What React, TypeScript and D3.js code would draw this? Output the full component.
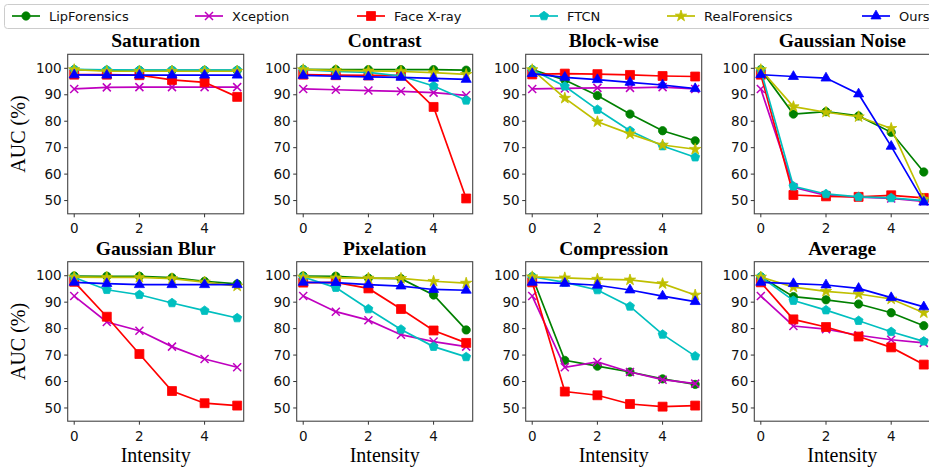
import React from "react";
import * as d3 from "d3";

const methods = ["LipForensics", "Xception", "Face X-ray", "FTCN", "RealForensics", "Ours"];
const intensities = [0, 1, 2, 3, 4, 5];
const xTicks = [0, 2, 4];
const yTicks = [50, 60, 70, 80, 90, 100];

// each panel: one row per method, same order as `methods`
const saturation = [
  [99.5, 99.2, 99.2, 99.2, 99.2, 99.2],
  [92.2, 92.8, 92.9, 92.9, 92.9, 92.9],
  [97.6, 97.6, 97.4, 95.6, 94.7, 89.2],
  [99.6, 99.4, 99.3, 99.3, 99.3, 99.3],
  [99.5, 98.9, 98.9, 98.9, 98.9, 98.9],
  [97.5, 97.4, 97.4, 97.4, 97.4, 97.4],
];
const contrast = [
  [99.6, 99.5, 99.5, 99.5, 99.5, 99.3],
  [92.2, 91.9, 91.6, 91.3, 90.8, 89.8],
  [97.6, 97.4, 97.3, 97.3, 85.4, 50.8],
  [99.5, 98.8, 98.5, 97.1, 93.3, 87.9],
  [99.5, 99.2, 99.0, 98.8, 98.4, 97.7],
  [97.3, 97.0, 96.8, 96.6, 96.2, 95.8],
];
const blockWise = [
  [99.5, 95.6, 89.7, 82.7, 76.4, 72.6],
  [92.2, 92.4, 92.6, 92.6, 92.9, 92.2],
  [97.7, 98.0, 97.8, 97.5, 97.1, 96.9],
  [99.5, 93.2, 84.4, 76.4, 70.6, 66.4],
  [99.5, 88.7, 79.8, 75.2, 71.0, 69.4],
  [98.0, 96.6, 95.7, 94.7, 93.7, 92.3],
];
const gaussianNoise = [
  [99.5, 82.7, 83.6, 82.0, 75.8, 60.8],
  [92.2, 55.0, 52.0, 51.3, 50.8, 49.7],
  [97.6, 52.1, 51.6, 51.4, 52.0, 51.0],
  [99.3, 55.4, 52.5, 51.4, 51.0, 50.0],
  [99.5, 85.5, 83.4, 81.7, 77.3, 50.5],
  [97.6, 96.9, 96.3, 90.3, 70.5, 49.4],
];
const gaussianBlur = [
  [99.9, 99.8, 99.8, 99.3, 97.9, 96.9],
  [92.3, 82.5, 79.2, 73.2, 68.5, 65.4],
  [97.7, 84.5, 70.4, 56.4, 51.8, 50.9],
  [99.3, 94.7, 92.8, 89.7, 86.8, 84.0],
  [99.5, 99.4, 99.4, 98.9, 97.6, 96.1],
  [97.5, 97.0, 96.6, 96.6, 96.6, 96.6],
];
const pixelation = [
  [99.9, 99.8, 99.1, 98.9, 92.7, 79.5],
  [92.3, 86.4, 83.2, 77.7, 75.1, 73.2],
  [97.4, 97.5, 95.2, 87.4, 79.3, 74.6],
  [99.5, 95.5, 87.4, 79.7, 73.2, 69.3],
  [99.5, 99.2, 99.1, 99.0, 97.9, 97.2],
  [97.5, 97.4, 96.6, 96.1, 94.8, 94.5],
];
const compression = [
  [99.6, 68.0, 65.8, 63.6, 61.0, 58.9],
  [92.3, 65.4, 67.4, 63.6, 60.7, 59.2],
  [97.5, 56.2, 54.8, 51.5, 50.5, 50.9],
  [99.6, 97.5, 94.6, 88.4, 77.8, 69.6],
  [99.6, 99.2, 98.7, 98.4, 97.0, 92.7],
  [97.5, 97.1, 96.4, 94.6, 92.3, 90.2],
];
const average = [
  [99.6, 92.1, 90.9, 89.3, 86.0, 81.1],
  [92.3, 81.0, 79.8, 77.5, 75.8, 74.6],
  [97.5, 83.5, 80.6, 77.0, 72.9, 66.4],
  [99.6, 90.6, 87.0, 83.0, 78.8, 75.2],
  [99.5, 95.7, 94.1, 93.1, 91.2, 86.0],
  [97.5, 97.0, 96.5, 95.2, 91.7, 88.2],
];

const panelTitles = ["Saturation", "Contrast", "Block-wise", "Gaussian Noise", "Gaussian Blur", "Pixelation", "Compression", "Average"];
const panelData = [saturation, contrast, blockWise, gaussianNoise, gaussianBlur, pixelation, compression, average];

const colors = ["#008000", "#bf00bf", "#ff0000", "#00bfbf", "#bfbf00", "#0000ff"];
const markers = ["circle", "x", "square", "pentagon", "star", "triangle"];

const W = 929, H = 468;
const colLeft = [67.7, 296.7, 525.7, 754.3];
const rowTop = [54.3, 261.7];
const panelW = 176, panelH = 159.5;
const legendX = [12, 195, 357, 530, 667, 862];

function markerPath(kind: string): string {
  if (kind === "circle") return d3.symbol(d3.symbolCircle, 54)() as string;
  if (kind === "square") return d3.symbol(d3.symbolSquare, 80)() as string;
  if (kind === "triangle") return d3.symbol(d3.symbolTriangle, 44)() as string;
  if (kind === "star") return d3.symbol(d3.symbolStar, 40)() as string;
  if (kind === "pentagon") {
    const r = 4.7;
    const pts = d3.range(5).map((k) => {
      const a = -Math.PI / 2 + (k * 2 * Math.PI) / 5;
      return [r * Math.cos(a), r * Math.sin(a)];
    });
    return "M" + pts.map((p) => p.join(",")).join("L") + "Z";
  }
  const s = 4;
  return `M${-s},${-s}L${s},${s}M${-s},${s}L${s},${-s}`;
}

function Marker({ kind, color, x, y }: { kind: string; color: string; x: number; y: number }) {
  const d = markerPath(kind);
  if (kind === "x") {
    return <path d={d} transform={`translate(${x},${y})`} fill="none" stroke={color} strokeWidth={1.5} />;
  }
  return <path d={d} transform={`translate(${x},${y})`} fill={color} stroke={color} strokeWidth={0.8} />;
}

function Panel({ idx }: { idx: number }) {
  const col = idx % 4, row = Math.floor(idx / 4);
  const left = colLeft[col], top = rowTop[row];
  const x = d3.scaleLinear().domain([-0.2, 5.2]).range([left, left + panelW]);
  const y = d3.scaleLinear().domain([45, 105.3]).range([top + panelH, top]);
  const line = d3.line<number>().x((_, i) => x(intensities[i])).y((v) => y(v));
  const rows = panelData[idx];
  return (
    <g>
      <text x={left + panelW / 2} y={top - 7} textAnchor="middle" fontFamily="Liberation Serif" fontWeight="bold" fontSize={19.5}>
        {panelTitles[idx]}
      </text>
      {rows.map((vals, m) => (
        <g key={m}>
          <path d={line(vals) as string} fill="none" stroke={colors[m]} strokeWidth={1.7} />
          {vals.map((v, i) => (
            <Marker key={i} kind={markers[m]} color={colors[m]} x={x(intensities[i])} y={y(v)} />
          ))}
        </g>
      ))}
      <rect x={left} y={top} width={panelW} height={panelH} fill="none" stroke="#444" strokeWidth={1.1} />
      {yTicks.map((t) => (
        <g key={t}>
          <line x1={left - 3.5} x2={left} y1={y(t)} y2={y(t)} stroke="#333" />
          <text x={left - 6} y={y(t)} dy="0.35em" textAnchor="end" fontFamily="DejaVu Sans" fontSize={13.5} fill="#111">
            {t}
          </text>
        </g>
      ))}
      {xTicks.map((t) => (
        <g key={t}>
          <line x1={x(t)} x2={x(t)} y1={top + panelH} y2={top + panelH + 3.5} stroke="#333" />
          <text x={x(t)} y={top + panelH + 19.5} textAnchor="middle" fontFamily="DejaVu Sans" fontSize={13.5} fill="#111">
            {t}
          </text>
        </g>
      ))}
      {col === 0 && (
        <text transform={`translate(24.5,${top + panelH / 2}) rotate(-90)`} textAnchor="middle" fontFamily="Liberation Serif" fontSize={20}>
          AUC (%)
        </text>
      )}
      {row === 1 && (
        <text x={left + panelW / 2} y={461.5} textAnchor="middle" fontFamily="Liberation Serif" fontSize={20}>
          Intensity
        </text>
      )}
    </g>
  );
}

export default function App() {
  return (
    <svg width={W} height={H} style={{ position: "absolute", left: 0, top: 0, background: "#fff" }}>
      <rect x={0} y={0} width={W} height={H} fill="#fff" />
      {panelTitles.map((_, i) => (
        <Panel key={i} idx={i} />
      ))}
      <rect x={4.5} y={4.5} width={940} height={24} rx={3} fill="#fff" stroke="#ccc" strokeWidth={1} />
      {methods.map((name, m) => (
        <g key={name}>
          <line x1={legendX[m]} x2={legendX[m] + 28} y1={16} y2={16} stroke={colors[m]} strokeWidth={1.7} />
          <Marker kind={markers[m]} color={colors[m]} x={legendX[m] + 14} y={16} />
          <text x={legendX[m] + 37} y={20.5} fontFamily="DejaVu Sans" fontSize={13} fill="#111">
            {name}
          </text>
        </g>
      ))}
    </svg>
  );
}
